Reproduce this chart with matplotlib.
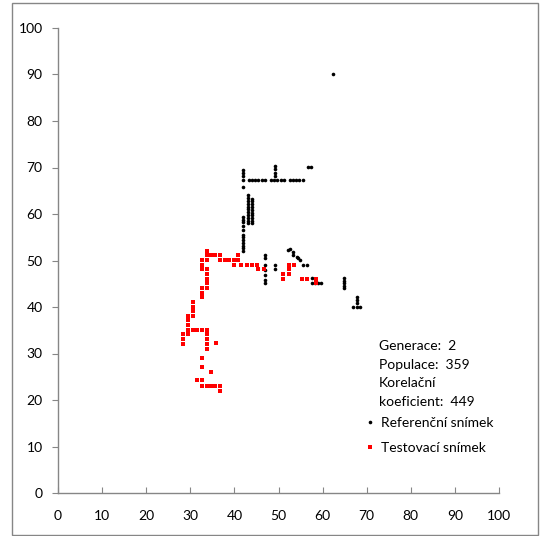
import matplotlib
matplotlib.use("Agg")
import matplotlib.pyplot as plt
from matplotlib.patches import Rectangle

plt.rcParams["font.family"] = ["Lato", "DejaVu Sans"]

# Referenční snímek (black points)
ref_x = [62.4,
         41.9, 41.9, 41.9, 41.9, 41.9,
         43.2, 43.9, 44.7, 45.4, 46.2, 46.9, 48.2, 49.0, 49.7, 50.5, 51.2,
         52.5, 53.2, 54.0, 54.7, 55.5,
         49.2, 49.2, 49.2, 49.2,
         56.6, 57.4,
         43.1, 43.1, 43.1, 43.1, 43.1, 43.1, 43.1, 43.1, 43.1, 43.1, 43.1,
         44.1, 44.1, 44.1, 44.1, 44.1, 44.1, 44.1, 44.1, 44.1, 44.1,
         41.9, 41.9, 41.9, 41.9, 41.9, 41.9, 41.9, 41.9, 41.9, 41.9, 41.9, 41.9,
         46.9, 46.9, 46.9, 46.9, 46.9, 46.9, 46.9,
         49.2, 49.2,
         52.2, 52.6, 53.3, 53.3, 54.1, 54.5, 54.9, 55.6, 56.4,
         57.5, 57.5, 58.3, 59.0, 59.6,
         64.9, 64.9, 64.9, 64.9, 64.9,
         67.8, 67.8, 67.8, 67.8, 67.0, 68.5]
ref_y = [90.0,
         69.4, 68.8, 68.1, 67.3, 65.9,
         67.3, 67.3, 67.3, 67.3, 67.3, 67.3, 67.3, 67.3, 67.3, 67.3, 67.3,
         67.3, 67.3, 67.3, 67.3, 67.3,
         70.3, 69.6, 68.9, 68.2,
         70.2, 70.2,
         64.0, 63.4, 62.8, 62.2, 61.6, 61.0, 60.4, 59.8, 59.2, 58.6, 58.0,
         63.3, 62.7, 62.1, 61.5, 60.9, 60.3, 59.7, 59.1, 58.5, 58.0,
         59.4, 58.8, 58.2, 57.5, 56.5, 55.5, 55.0, 54.4, 53.8, 53.2, 52.6, 52.0,
         51.2, 50.5, 49.0, 48.0, 46.9, 45.8, 45.1,
         49.0, 48.2,
         52.3, 52.4, 51.9, 51.2, 50.8, 50.5, 50.1, 49.0, 49.0,
         46.2, 45.2, 45.2, 45.2, 45.1,
         46.2, 45.6, 45.1, 44.5, 44.0,
         42.2, 41.5, 40.9, 40.1, 40.1, 40.1]

# Testovací snímek (red points)
test_x = [33.7,
          33.7, 34.8, 35.7, 36.8, 40.9,
          32.6, 33.7, 36.7, 37.9, 38.8, 39.9, 40.9,
          32.6, 39.9, 41.4, 42.9, 43.9, 45.2, 52.4, 53.5,
          32.6, 33.7, 45.4, 46.6, 52.4,
          33.7, 51.0, 52.4,
          33.7, 51.0, 55.4, 56.5, 58.6,
          33.7, 58.6,
          32.6, 33.7, 32.6, 32.6,
          30.5, 30.5, 30.5,
          29.5, 30.5, 29.5, 29.5,
          29.5, 30.5, 31.6, 32.6, 33.7,
          28.4, 29.5, 33.7,
          28.4, 33.7, 35.8,
          28.4, 33.7, 33.7,
          32.6, 32.6, 34.8,
          31.6, 32.6,
          32.6, 33.7, 34.8, 35.7, 36.8, 36.8]
test_y = [52.1,
          51.2, 51.2, 51.2, 51.2, 51.2,
          50.1, 50.1, 50.1, 50.1, 50.1, 50.1, 50.1,
          49.0, 49.0, 49.0, 49.0, 49.0, 49.0, 49.0, 49.0,
          48.1, 48.1, 48.1, 48.1, 48.1,
          47.1, 47.1, 47.1,
          46.0, 46.0, 46.0, 46.0, 46.0,
          45.1, 45.1,
          44.0, 44.0, 43.1, 42.1,
          41.1, 40.1, 39.1,
          38.1, 38.1, 37.1, 36.1,
          35.0, 35.0, 35.0, 35.0, 35.0,
          34.1, 34.1, 34.1,
          33.1, 33.1, 32.2,
          32.0, 32.0, 31.0,
          29.0, 27.0, 26.0,
          24.2, 24.2,
          23.0, 23.0, 23.0, 23.0, 23.0, 22.0]

info_lines = ["Generace:  2", "Populace:  359", "Korelační", "koeficient:  449"]
ticks = list(range(0, 101, 10))

W, H = 543, 536
fig = plt.figure(figsize=(W / 100, H / 100), dpi=100)
ax = fig.add_axes([58 / W, 1 - 493 / H, 441 / W, 465 / H])

ref_h, = ax.plot(ref_x, ref_y, "o", color="black", ms=2.6, mew=0,
                 label="Referenční snímek")
test_h, = ax.plot(test_x, test_y, "s", color="#ff0000", ms=2.6, mew=0,
                  label="Testovací snímek")

ax.set_xlim(0, 100)
ax.set_ylim(0, 100)
ax.set_xticks(ticks)
ax.set_yticks(ticks)
for s in ("top", "right"):
    ax.spines[s].set_visible(False)
for s in ("left", "bottom"):
    ax.spines[s].set_color("#868686")
    ax.spines[s].set_linewidth(1.0)
ax.tick_params(axis="y", direction="out", length=4, color="#868686",
               labelsize=10, pad=7)
ax.tick_params(axis="x", direction="in", length=4, color="#868686",
               labelsize=10, pad=12)

# stats text block
for i, line in enumerate(info_lines):
    fig.text(379 / W, 1 - (346 + i * 18.7) / H, line, fontsize=10,
             va="center", ha="left")

ax.legend(handles=[ref_h, test_h], loc="upper left",
          bbox_to_anchor=(366 / W, 1 - 417 / H), bbox_transform=fig.transFigure,
          frameon=False, fontsize=10, handlelength=0.6, handletextpad=0.5,
          labelspacing=0.9, borderpad=0, borderaxespad=0, markerscale=1.0)

# outer chart border
fig.patches.append(Rectangle((12 / W, 1 / H), 526 / W, 532 / H,
                             transform=fig.transFigure, fill=False,
                             edgecolor="#868686", linewidth=1.0))

fig.savefig("out.png", dpi=100)
